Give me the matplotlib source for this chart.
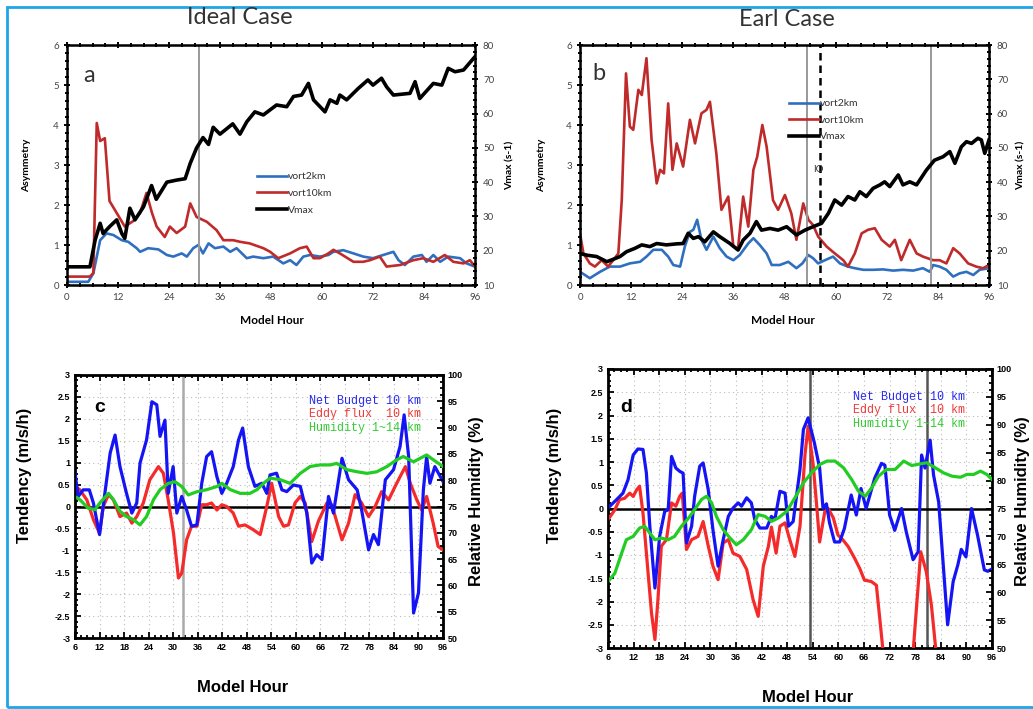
import numpy as np
import matplotlib
matplotlib.use('Agg')
import matplotlib.pyplot as plt
from matplotlib.ticker import MultipleLocator
from matplotlib.patches import Rectangle

# ---- panel a (Ideal case) ----
a_v2_hr = [0, 5, 6.2, 7.8, 9.3, 10.9, 12.9, 14.4, 16.4, 17.2, 19.1, 21.5, 23.5, 25, 27, 28.2, 29.7, 30.9, 32, 33.3,
           34.8, 36.8, 38.4, 39.9, 42.3, 43.8, 46.2, 48.5, 50.9, 52.5, 54, 55.6, 57.2, 59.5, 61.5, 62.7, 65, 67.4,
           69.7, 72, 74.4, 76.8, 78, 79.5, 81.5, 83.5, 84.6, 86.2, 87.8, 89.7, 92.5, 94, 96]
a_v2 = [0.08, 0.08, 0.29, 1.12, 1.29, 1.25, 1.12, 1.08, 0.92, 0.83, 0.92, 0.89, 0.75, 0.71, 0.79, 0.71, 0.92, 1.0,
        0.79, 1.04, 0.92, 0.96, 0.83, 0.92, 0.67, 0.71, 0.67, 0.71, 0.54, 0.62, 0.5, 0.71, 0.75, 0.71, 0.75, 0.83,
        0.87, 0.79, 0.71, 0.67, 0.75, 0.83, 0.62, 0.5, 0.71, 0.75, 0.58, 0.75, 0.58, 0.71, 0.67, 0.54, 0.46]
a_v10_hr = [0, 5.4, 6.2, 7, 7.8, 8.9, 10, 11.7, 13.6, 15.6, 17.2, 18.7, 20, 21.1, 23, 24.2, 25.8, 27.8, 29, 30.5,
            32.9, 35.2, 36.8, 39.1, 40.7, 43, 46.2, 47.8, 49.7, 52.5, 54.8, 56.4, 58, 59.5, 61.5, 62.7, 64.2, 67.4,
            69.7, 71.3, 73.6, 75.2, 78.4, 81.5, 83.8, 86.2, 88.9, 90.9, 93.3, 94.8, 96]
a_v10 = [0.21, 0.21, 0.3, 4.05, 3.6, 3.67, 2.1, 1.8, 1.46, 1.6, 1.8, 2.3, 1.8, 1.46, 1.2, 1.46, 1.3, 1.46, 2.04, 1.7,
         1.58, 1.37, 1.12, 1.12, 1.08, 1.04, 0.92, 0.83, 0.67, 0.79, 0.92, 0.96, 0.67, 0.67, 0.79, 0.88, 0.79, 0.58,
         0.58, 0.62, 0.71, 0.46, 0.5, 0.62, 0.67, 0.58, 0.75, 0.58, 0.54, 0.62, 0.46]
a_vmax_hr = [0, 5.4, 6.6, 7.8, 8.5, 10, 11.7, 12.9, 13.6, 14.8, 16, 18, 19.9, 21, 23.5, 25.8, 27.8, 29, 30.5, 32,
             33.3, 34.4, 36, 39, 40.7, 42.3, 44.2, 46.2, 49.3, 51.7, 53.3, 55.2, 56.8, 58, 60.7, 61.9, 63.5, 64.2,
             65.8, 68.5, 70.8, 72, 74, 75.2, 76.8, 80.7, 81.9, 83, 86.2, 88.2, 89.7, 91.3, 93.3, 96]
a_vmax = [15.3, 15.3, 23, 28, 25, 27, 29, 25, 23.6, 32.4, 29, 32.8, 39, 35, 40, 40.6, 41, 45.5, 50, 53,
          51, 56, 54, 57, 54, 57.6, 60.5, 59.6, 62.5, 62, 65, 65.4, 68.8, 64, 60.5, 64, 63, 65.4, 64, 67.3,
          69.8, 68.3, 70.3, 67.8, 65.4, 65.9, 69.3, 64.4, 68.8, 68.3, 73.2, 72.2, 72.7, 76.6]
a_lines = [31]

# ---- panel b (Earl case) ----
b_v2_hr = [0, 2.3, 4.7, 7, 9.4, 11.7, 14.1, 15.6, 17.2, 19.2, 20.7, 21.9, 23.5, 24.6, 25.8, 26.6, 27.5, 28.5, 29.7,
           31.3, 32.8, 34.4, 36, 37.5, 39.5, 40.7, 42.2, 43.8, 45, 46.9, 48.9, 50.8, 52.2, 53.6, 54.7, 55.9, 57.5,
           59.4, 61, 62.9, 64.5, 66.5, 68.8, 71.1, 73.5, 75.8, 78.2, 80.5, 82.1, 82.9, 84.4, 86, 87.6, 89.1, 90.7,
           92.3, 93.8, 96]
b_v2 = [0.33, 0.17, 0.33, 0.46, 0.46, 0.54, 0.58, 0.71, 0.88, 0.88, 0.71, 0.5, 0.46, 0.96, 1.33, 1.38, 1.63, 1.13,
        0.88, 1.21, 0.92, 0.71, 0.62, 0.75, 1.04, 1.17, 1.0, 0.79, 0.5, 0.5, 0.58, 0.42, 0.54, 0.75, 0.67, 0.54,
        0.62, 0.71, 0.54, 0.46, 0.42, 0.38, 0.38, 0.39, 0.36, 0.38, 0.36, 0.42, 0.33, 0.5, 0.46, 0.38, 0.21, 0.29,
        0.33, 0.25, 0.38, 0.42]
b_v10_hr = [0, 0.8, 2.3, 3.5, 5.1, 6.6, 7.8, 9, 9.8, 10.8, 11.7, 12.5, 13.7, 14.5, 15.6, 16.8, 18, 18.8, 19.7, 20.7,
            21.7, 22.7, 24.2, 25.8, 27, 28.5, 29.7, 30.5, 32, 33.2, 34.8, 36, 37.1, 38.3, 39.5, 40.7, 41.6, 42.8,
            43.8, 45.3, 46.5, 48.1, 49.6, 50.8, 52.4, 53.6, 54.7, 55.9, 57.9, 59.8, 61.8, 62.9, 64.5, 66.1, 67.6,
            69.2, 70.8, 72.7, 73.9, 75.4, 77.4, 79, 80.5, 82.9, 84.4, 86, 87.6, 89.1, 91.1, 93, 94.6, 96]
b_v10 = [1.29, 0.79, 0.54, 0.46, 0.62, 0.46, 0.62, 0.79, 2.12, 5.29, 3.96, 3.88, 4.88, 4.75, 5.67, 3.63, 2.54, 2.88,
         2.79, 4.54, 2.88, 3.54, 2.96, 4.13, 3.54, 4.29, 4.38, 4.58, 3.29, 1.88, 2.21, 0.96, 0.92, 2.21, 1.46, 2.88,
         3.21, 4.0, 3.46, 2.12, 1.88, 2.25, 1.79, 1.13, 2.04, 1.63, 1.5, 1.21, 0.96, 0.79, 0.62, 0.46, 0.79, 1.29,
         1.38, 1.42, 1.13, 0.96, 1.13, 0.62, 1.13, 0.79, 0.71, 0.62, 0.62, 0.54, 0.92, 0.79, 0.54, 0.46, 0.42, 0.5]
b_vmax_hr = [0, 1.6, 3.9, 6.3, 7.4, 9.4, 10.9, 12.9, 14.5, 16.4, 18, 20.3, 22.7, 24.2, 25.4, 26.6, 27.8, 29.3, 31.3,
             32.8, 35.2, 37.1, 38.3, 39.9, 41.4, 42.6, 44.6, 46.5, 48.5, 50.8, 52.8, 54.7, 56.7, 58.3, 59.8, 61.4,
             62.9, 64.5, 65.7, 67.2, 68.8, 70.4, 71.5, 72.7, 74.7, 75.8, 77.4, 79, 81.3, 83.2, 85.2, 86.8, 88, 89.5,
             90.7, 91.9, 93.4, 94.2, 95, 96]
b_vmax = [19.2, 18.7, 18.3, 16.8, 17.3, 18.3, 19.7, 20.7, 21.7, 21.2, 22.1, 21.7, 22.0, 22.1, 25.1, 23.6, 24.1, 22.6,
          25.5, 24.1, 22.1, 20.2, 23.1, 25.1, 28.5, 26.0, 26.5, 26.0, 27.0, 24.6, 26.0, 27.0, 28.0, 30.9, 34.8, 33.3,
          35.8, 34.8, 37.2, 35.8, 38.2, 39.2, 40.1, 38.7, 42.1, 39.2, 40.1, 39.2, 43.5, 46.4, 47.4, 48.9, 45.5, 50.3,
          51.8, 51.3, 52.8, 52.3, 48.4, 52.3]
b_lines = [53.3, 82.3]
b_dash = 56.3

# ---- panel c (Ideal case budget) ----
c_net_hr = [6, 6.8, 8, 9.5, 10.5, 12, 13.3, 14.6, 15.8, 17, 18.6, 19.9, 21.1, 21.9, 23.5, 24.8, 26, 26.8, 28, 28.8,
            30, 30.9, 32.1, 33.3, 34.5, 35.8, 37, 38.2, 39.4, 40.7, 41.9, 43.1, 44.7, 46, 47, 48.4, 50, 51.7, 52.9,
            53.7, 55.3, 56.6, 57.8, 59.4, 61.1, 62.7, 63.9, 65.1, 66.4, 68, 69.2, 71.3, 72.9, 75, 76.1, 77.8, 79,
            80.2, 81.9, 83.9, 85.5, 86.5, 87.6, 88.8, 90, 91.2, 92, 92.8, 94, 96]
c_net = [0.76, 0.23, 0.38, 0.38, 0.08, -0.64, 0.30, 1.22, 1.63, 0.91, 0.30, -0.15, 0.08, 0.99, 1.52, 2.39, 2.32, 1.60,
         1.97, 0.30, 0.91, -0.15, 0.23, -0.08, -0.45, -0.42, 0.53, 1.14, 1.25, 0.68, 0.30, 0.53, 0.91, 1.52, 1.79,
         0.91, 0.46, 0.53, 0.30, 0.72, 0.76, 0.38, 0.34, 0.49, 0.46, -0.15, -1.29, -1.10, -1.21, 0.23, -0.15, 1.10,
         0.61, 0.38, -0.08, -0.99, -0.64, -0.87, 0.61, 0.84, 1.37, 2.09, 1.14, -2.43, -1.97, 0.38, 1.14, 0.53, 0.91,
         0.57]
c_eddy_hr = [6, 7.2, 8.9, 10.5, 12, 12.9, 14.2, 15.4, 17, 18.6, 19.9, 21.1, 22.7, 24.3, 26.4, 27.6, 28.8, 30.1, 31.3,
             32.1, 33.3, 34.5, 35.8, 37, 38.2, 39.4, 40.7, 41.9, 43.1, 44.7, 46, 47.6, 49.6, 51.3, 52.9, 54.1, 55.8,
             57, 58.2, 59.8, 61.1, 62.3, 63.9, 65.5, 67.6, 68.8, 71.3, 72.9, 74.5, 76.1, 77.8, 79.4, 81, 82.7, 84.3,
             85.5, 86.8, 88, 89.6, 90.8, 92, 93.6, 94.8, 96]
c_eddy = [0.46, 0.38, 0.15, -0.30, -0.61, 0.0, 0.27, 0.15, -0.23, -0.15, -0.38, -0.23, 0.08, 0.61, 0.91, 0.76, 0.15,
          -0.61, -1.63, -1.52, -0.76, -0.45, -0.45, 0.04, 0.04, 0.08, -0.08, 0.04, 0.0, -0.15, -0.45, -0.42, -0.53,
          -0.64, 0.0, 0.53, -0.23, -0.45, -0.42, 0.08, 0.23, 0.08, -0.80, -0.34, 0.08, 0.04, -0.76, -0.38, 0.27, 0.08,
          -0.23, 0.0, 0.34, 0.15, 0.46, 0.68, 0.91, 0.53, 0.15, -0.08, 0.23, -0.38, -0.91, -0.99]
c_rh_hr = [6, 7.2, 9.2, 10.9, 12, 14.2, 15.4, 17, 18.6, 20.3, 21.9, 23.5, 25.2, 26.8, 28.8, 30.5, 32.1, 33.7, 35.8,
           38.2, 40.7, 41.9, 44, 46.4, 48.8, 50.5, 52.1, 53.7, 56.2, 58.6, 61.1, 63.5, 65.9, 68.4, 70, 72.5, 75,
           77.4, 79.8, 82.3, 84.7, 86.3, 88.8, 90.5, 92, 93.6, 96]
c_rh = [76.9, 76.3, 74.7, 74.4, 75.6, 77.5, 76.3, 74.1, 73.1, 72.5, 71.5, 73.1, 76.3, 78.2, 79.4, 79.7, 78.8, 77.2,
        77.8, 78.2, 78.8, 79.4, 78.2, 77.5, 77.5, 78.2, 79.4, 80.4, 80.1, 79.4, 81.3, 82.6, 82.9, 82.9, 83.2, 82.0,
        81.6, 81.3, 81.6, 82.6, 83.9, 84.5, 83.5, 84.2, 84.8, 83.9, 82.6]
c_lines = [32.3]

# ---- panel d (Earl case budget) ----
d_net_hr = [6, 8, 9.5, 10.7, 11.9, 13, 14.2, 15, 15.8, 17, 18.1, 19.3, 20.1, 20.9, 21.9, 22.8, 23.6, 24.4, 25.6,
            26.3, 27.5, 28.3, 29.5, 30.6, 31.8, 33, 34.2, 35.3, 36.5, 37.3, 38.5, 39.6, 40.4, 41.6, 43.2, 44.3, 45.1,
            46.3, 47.5, 48.3, 49.4, 51, 51.8, 52.9, 54.4, 55.6, 56.4, 57.2, 57.9, 59.1, 60.3, 61.4, 63, 64.2, 65.3,
            66.5, 68.5, 70.1, 70.9, 72, 73.2, 74.8, 75.9, 77.5, 78.7, 79.5, 80.3, 81.5, 82.3, 83.5, 85.6, 86.9, 88,
            88.8, 89.9, 91.2, 92.6, 94.2, 95, 96]
d_net = [0.01, 0.19, 0.33, 0.62, 1.15, 1.28, 1.27, 0.76, -0.38, -1.71, -0.60, -0.06, -0.03, 1.12, 0.87, 0.80, 0.76,
         -0.74, -0.38, 0.26, 0.91, 0.98, 0.40, -0.46, -1.24, -0.67, -0.17, 0.01, 0.12, 0.05, 0.23, 0.12, -0.24, -0.42,
         -0.42, -0.17, -0.24, 0.37, 0.33, -0.38, -0.28, 0.84, 1.70, 1.95, 1.40, 0.87, 0.0, 0.1, -0.3, -0.72, -0.72,
         -0.43, 0.29, -0.14, 0.43, 0.0, 0.65, 0.97, 0.93, -0.14, -0.47, 0.0, -0.5, -1.1, -0.93, 1.15, 0.87, 1.47,
         0.72, 0.14, -2.5, -1.57, -1.21, -0.88, -1.04, 0.0, -0.57, -1.32, -1.35, -1.3]
d_eddy_hr = [6, 7.6, 8.7, 9.9, 11.1, 11.9, 12.7, 13.4, 14.2, 15.4, 16.2, 17, 17.7, 18.5, 19.7, 20.9, 21.9, 22.8, 23.4,
             24.4, 25.6, 27.1, 28.3, 29.5, 30.6, 31.8, 33, 34.2, 35.3, 36.9, 38.5, 40, 41.2, 42.4, 43.6, 44.3, 45.4,
             46.3, 47.5, 48.6, 49.8, 51, 52.2, 52.9, 54.1, 54.9, 55.6, 56.8, 57.6, 58.8, 59.9, 61.1, 62.3, 63.8, 65,
             66.1, 67.7, 68.9, 69.7, 70.5, 74, 77.5, 79.3, 80.6, 81.8, 82.9]
d_eddy = [-0.24, -0.03, 0.19, 0.22, 0.33, 0.26, 0.4, 0.48, -0.1, -1.39, -2.25, -2.82, -1.96, -0.81, -0.67, 0.12, 0.05,
          0.26, 0.33, -0.88, -0.67, -0.6, -0.28, -0.81, -1.24, -1.53, -0.74, -0.67, -0.96, -1.03, -1.31, -1.96, -2.32,
          -1.24, -0.81, -0.4, -0.96, -0.38, -0.31, -0.67, -1.03, -0.38, 1.19, 1.77, 0.93, 0.07, -0.72, -0.07, 0.0,
          -0.2, -0.57, -0.68, -0.82, -1.07, -1.29, -1.54, -1.57, -1.65, -2.37, -3.1, np.nan, -3.1, -0.93, -1.36,
          -2.08, -3.1]
d_rh_hr = [6, 7.6, 9.2, 10.3, 11.9, 13.4, 14.6, 15.8, 17, 18.5, 20.1, 21.6, 23.2, 24.9, 26.3, 27.9, 29.1, 30.3, 31.4,
           33, 34.6, 36.1, 37.7, 39.6, 41.2, 42.8, 44.3, 45.9, 47.9, 49.8, 51.8, 53.7, 55.7, 57.3, 59.2, 61.2, 63.1,
           64.7, 66.3, 67.8, 69.4, 71.3, 73.3, 75.3, 77.2, 79.2, 80.7, 82.7, 84.6, 86.6, 88.6, 90.1, 91.7, 93.3,
           94.8, 96]
d_rh = [61.9, 63.4, 67.0, 69.4, 70.0, 71.5, 71.8, 70.6, 69.4, 69.7, 69.4, 70.0, 71.8, 73.3, 74.8, 76.6, 77.2, 76.0,
        73.6, 71.2, 69.7, 68.5, 69.4, 71.2, 73.9, 73.6, 72.7, 73.3, 74.5, 76.9, 79.6, 81.4, 82.9, 83.5, 83.5, 82.3,
        80.2, 78.1, 77.2, 78.7, 80.8, 82.0, 82.0, 83.5, 82.7, 83.0, 83.2, 82.3, 81.4, 80.8, 80.6, 81.1, 81.1, 81.7,
        81.1, 80.2]
d_lines = [53.3, 80.8]

budget_labels = ['Net Budget 10 km', 'Eddy flux  10 km', 'Humidity 1~14 km']
W, H = 1033, 709


def px(x, y):
    return x / W, 1 - y / H


def rect(x0, y0, x1, y1):
    return [x0 / W, 1 - y1 / H, (x1 - x0) / W, (y1 - y0) / H]


fig = plt.figure(figsize=(W / 100, H / 100), dpi=100)
fig.patches.append(Rectangle((7 / W, 2 / H), 1.0, (H - 9) / H, transform=fig.transFigure,
                             fill=False, edgecolor='#1ea5ea', lw=2))

xl_blue = '#2f6fc0'
xl_red = '#bf2a2a'
tick_col = '#444444'


def top_panel(box, v2_hr, v2, v10_hr, v10, vm_hr, vm, leg_anchor):
    ax = fig.add_axes(box)
    l1, = ax.plot(v2_hr, v2, color=xl_blue, lw=1.9, label='vort2km')
    l2, = ax.plot(v10_hr, v10, color=xl_red, lw=1.9, label='vort10km')
    ax.set_xlim(0, 96)
    ax.set_ylim(0, 6)
    ax.set_xticks(np.arange(0, 97, 12))
    ax.xaxis.set_minor_locator(MultipleLocator(3))
    ax.yaxis.set_minor_locator(MultipleLocator(0.2))
    ax.tick_params(which='both', direction='inout', top=True, labelsize=7, labelcolor=tick_col, width=1.4)
    ax.tick_params(which='major', length=4.5)
    ax.tick_params(which='minor', length=3)
    for s in ax.spines.values():
        s.set_linewidth(1.8)
    ax2 = ax.twinx()
    l3, = ax2.plot(vm_hr, vm, color='black', lw=2.6, label='Vmax')
    ax2.set_ylim(10, 80)
    ax2.yaxis.set_minor_locator(MultipleLocator(2))
    ax2.tick_params(which='both', direction='inout', labelsize=7, labelcolor=tick_col, width=1.4)
    ax2.tick_params(which='major', length=4.5)
    ax2.tick_params(which='minor', length=3)
    leg = ax2.legend([l1, l2, l3], ['vort2km', 'vort10km', 'Vmax'], frameon=False, loc='upper left',
                     bbox_to_anchor=leg_anchor, fontsize=7.5, handlelength=2.9, handletextpad=0.1,
                     labelspacing=0.7, borderpad=0, borderaxespad=0)
    for t in leg.get_texts():
        t.set_color('#333333')
    return ax, ax2


def bottom_panel(box, net_hr, net, eddy_hr, eddy, rh_hr, rh):
    ax = fig.add_axes(box)
    ax.set_xlim(6, 96)
    ax.set_ylim(-3, 3)
    ax.set_xticks(np.arange(6, 97, 6))
    ax.set_yticks(np.arange(-3, 3.01, 0.5))
    ax.set_yticklabels(['%g' % v for v in np.arange(-3, 3.01, 0.5)])
    ax.xaxis.set_minor_locator(MultipleLocator(1.5))
    ax.yaxis.set_minor_locator(MultipleLocator(0.125))
    ax.grid(True, which='major', color='#bbbbbb', linestyle=(0, (1, 3)), lw=0.8)
    ax.axhline(0, color='black', lw=1.8, zorder=3)
    ax.plot(net_hr, net, color='#1414f5', lw=2.3, zorder=5)
    ax.plot(eddy_hr, eddy, color='#f52a2a', lw=2.3, zorder=4)
    ax.tick_params(which='both', direction='in', top=True, labelsize=6.5, width=1.3)
    ax.tick_params(which='major', length=4)
    ax.tick_params(which='minor', length=2.5)
    for t in ax.get_xticklabels() + ax.get_yticklabels():
        t.set_fontweight('bold')
    for s in ax.spines.values():
        s.set_linewidth(2.0)
    ax2 = ax.twinx()
    ax2.plot(rh_hr, rh, color='#22cc22', lw=2.3)
    ax2.set_ylim(50, 100)
    ax2.set_yticks(np.arange(50, 101, 5))
    ax2.yaxis.set_minor_locator(MultipleLocator(1.25))
    ax2.tick_params(which='both', direction='in', labelsize=6.5, width=1.3)
    ax2.tick_params(which='major', length=4)
    ax2.tick_params(which='minor', length=2.5)
    for t in ax2.get_yticklabels():
        t.set_fontweight('bold')
    return ax, ax2


plt.rcParams['font.family'] = ['Lato', 'DejaVu Sans']

# top row
axa, axa2 = top_panel(rect(67, 45, 475, 285), a_v2_hr, a_v2, a_v10_hr, a_v10, a_vmax_hr, a_vmax, (0.465, 0.47))
for h in a_lines:
    axa.axvline(h, color='#999999', lw=1.4)
axb, axb2 = top_panel(rect(580, 45, 989, 285), b_v2_hr, b_v2, b_v10_hr, b_v10, b_vmax_hr, b_vmax, (0.51, 0.775))
for h in b_lines:
    axb.axvline(h, color='#999999', lw=1.4)
axb.axvline(b_dash, color='black', lw=1.8, linestyle=(0, (3, 2)))

fig.text(*px(240, 17), 'Ideal Case', ha='center', va='center', fontsize=17, color='#333333')
fig.text(*px(787, 20), 'Earl Case', ha='center', va='center', fontsize=17, color='#333333')
fig.text(*px(89, 75), 'a', ha='center', va='center', fontsize=17, color='#333333')
fig.text(*px(599, 73), 'b', ha='center', va='center', fontsize=17, color='#333333')
fig.text(*px(818, 170), 'IO', ha='center', va='center', fontsize=7, color='#333333')
for x0, x1, mid in [(27, 510, 272), (542, 1021, 783)]:
    fig.text(*px(x0, 165), 'Asymmetry', rotation=90, ha='center', va='center', fontsize=7.5,
             fontweight='bold')
    fig.text(*px(x1, 165), 'Vmax (s-1)', rotation=90, ha='center', va='center', fontsize=7.5,
             fontweight='bold')
    fig.text(*px(mid, 321), 'Model Hour', ha='center', va='center', fontsize=8.5, fontweight='bold')

plt.rcParams['font.family'] = ['Liberation Sans', 'DejaVu Sans']

# bottom row
axc, axc2 = bottom_panel(rect(75, 375, 443, 638), c_net_hr, c_net, c_eddy_hr, c_eddy, c_rh_hr, c_rh)
for h in c_lines:
    axc.axvline(h, color='#aaaaaa', lw=1.8, zorder=2)
axd, axd2 = bottom_panel(rect(608, 369, 992, 648), d_net_hr, d_net, d_eddy_hr, d_eddy, d_rh_hr, d_rh)
for h in d_lines:
    axd.axvline(h, color='#555555', lw=1.8, zorder=2)

fig.text(*px(100, 408), 'c', ha='center', va='center', fontsize=14, fontweight='bold')
fig.text(*px(626, 407), 'd', ha='center', va='center', fontsize=14, fontweight='bold')
for xr, ys in [(421, (401, 414, 428)), (965, (397, 410, 424))]:
    for lab, col, y in zip(budget_labels, ['#2a2af0', '#f03a3a', '#33cc33'], ys):
        fig.text(*px(xr, y), lab, ha='right', va='center', fontsize=8.5, color=col,
                 family='Liberation Mono')
for xl, xr, xm, ym in [(25, 477, 243, 688), (555, 1023, 808, 698)]:
    fig.text(*px(xl, 475), 'Tendency (m/s/h)', rotation=90, ha='center', va='center', fontsize=12,
             fontweight='bold')
    fig.text(*px(xr, 501), 'Relative Humidity (%)', rotation=90, ha='center', va='center', fontsize=12,
             fontweight='bold')
    fig.text(*px(xm, ym), 'Model Hour', ha='center', va='center', fontsize=12, fontweight='bold')

fig.savefig('out.png', dpi=100)
plt.close(fig)
